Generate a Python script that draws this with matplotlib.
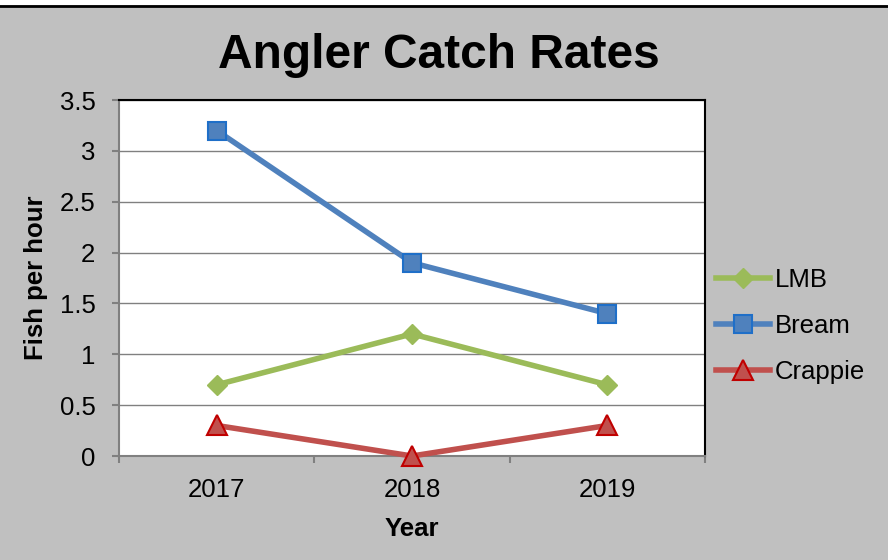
import matplotlib.pyplot as plt
from matplotlib.patches import Rectangle
from matplotlib.lines import Line2D

years = ['2017', '2018', '2019']
lmb = [0.7, 1.2, 0.7]
bream = [3.2, 1.9, 1.4]
crappie = [0.3, 0.0, 0.3]

plt.rcParams['font.family'] = ['Liberation Sans', 'DejaVu Sans']
FS = 18.5

fig = plt.figure(figsize=(8.88, 5.6), dpi=100, facecolor='#C0C0C0')
ax = fig.add_axes([119/888, 1 - 456/560, (705 - 119)/888, (456 - 100)/560])
ax.set_facecolor('white')

x = list(range(len(years)))
ax.plot(x, lmb, color='#9BBB59', lw=4, marker='D', ms=10, mfc='#9BBB59', mec='#9BBB59', label='LMB', zorder=3)
ax.plot(x, bream, color='#4F81BD', lw=4, marker='s', ms=13, mfc='#4F81BD', mec='#1F6FC8', mew=1.5, label='Bream', zorder=3)
ax.plot(x, crappie, color='#C0504D', lw=4, marker='^', ms=15, mfc='#C0504D', mec='#C00000', mew=1.5, label='Crappie', zorder=3, clip_on=False)

ax.set_xlim(-0.5, 2.5)
ax.set_ylim(0, 3.5)
ax.set_yticks([0, 0.5, 1, 1.5, 2, 2.5, 3, 3.5])
ax.set_yticklabels(['0', '0.5', '1', '1.5', '2', '2.5', '3', '3.5'])
ax.set_xticks(x)
ax.set_xticklabels(years)
ax.set_xticks([-0.5, 0.5, 1.5, 2.5], minor=True)
ax.tick_params(axis='x', which='major', length=0, labelsize=FS, pad=16)
ax.tick_params(axis='x', which='minor', length=5, width=1.5, color='#808080', direction='out')
ax.tick_params(axis='y', length=5, width=1.5, color='#808080', labelsize=FS, pad=12)
ax.grid(axis='y', color='#808080', lw=1)
ax.set_axisbelow(True)

for s in ['top', 'right']:
    ax.spines[s].set_color('black')
    ax.spines[s].set_linewidth(1.5)
for s in ['left', 'bottom']:
    ax.spines[s].set_color('#808080')
    ax.spines[s].set_linewidth(1.5)

ax.set_xlabel('Year', fontsize=FS, fontweight='bold', labelpad=11)
ax.set_ylabel('Fish per hour', fontsize=FS, fontweight='bold', labelpad=8)

fig.text(0.494, 1 - 55/560, 'Angler Catch Rates', ha='center', va='center',
         fontsize=34.5, fontweight='bold')

leg = fig.legend(loc='center left', bbox_to_anchor=(693/888, 1 - 326/560), frameon=False,
                 fontsize=FS, handlelength=2.1, handletextpad=0.2, labelspacing=0.85)

# white strip and black rule at the very top
fig.patches.append(Rectangle((0, 1 - 5/560), 1, 5/560, transform=fig.transFigure,
                             facecolor='white', edgecolor='none'))
fig.lines.append(Line2D([0, 1], [1 - 5.5/560, 1 - 5.5/560], transform=fig.transFigure,
                        color='black', lw=2))

fig.savefig('out.png', dpi=100, facecolor=fig.get_facecolor())
